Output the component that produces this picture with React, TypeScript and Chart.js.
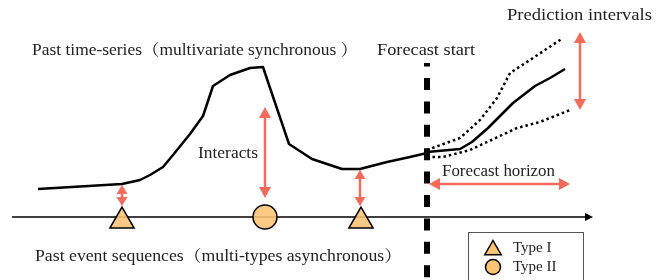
import React, { useEffect, useRef } from "react";
import { Chart, registerables } from "chart.js";
Chart.register(...registerables);

const W = 663;
const H = 280;

// Past time-series (diagram units = canvas pixels, y downward)
const pastX = [38, 122, 140, 150, 163, 173, 190, 203, 213, 230, 250, 263, 268, 289, 312, 342, 360, 387, 410, 427];
const pastY = [189, 184, 180, 175, 167, 155, 134, 116, 86, 75, 68, 67, 82, 144, 159, 169, 169, 162, 157, 153];

// Forecast mean and prediction intervals
const meanX = [427, 460, 472, 488, 513, 535, 550, 565];
const meanY = [152, 149, 142, 128, 103, 86, 78, 69];
const upperX = [427, 460, 480, 497, 510, 530, 563];
const upperY = [150, 138, 120, 98, 73, 60, 38];
const lowerX = [427, 443, 470, 517, 540, 570];
const lowerY = [157, 157, 150, 128, 122, 110];

// Event sequence
const axisX = [12, 586];
const axisLevel = 217;
const typeIX = [122, 361];
const typeIIX = [265];
const forecastStartX = 427;

// Interaction arrows: x, top, bottom
const interactX = [122, 265, 360];
const interactTop = [185, 107, 170];
const interactBottom = [206, 198, 206];

const RED = "#F36B5C";
const ORANGE = "#FCC373";
const ORANGE_FILL = "rgba(252,195,115,0.88)";
const TEXT = "#222";
const FONT = '"Liberation Serif", "Noto Serif CJK SC", "Noto Sans CJK SC", serif';

const labels = [
  { t: "Past time-series（multivariate synchronous ）", x: 32, y: 51, w: 326, s: 16 },
  { t: "Forecast start", x: 377, y: 51, w: 98, s: 16 },
  { t: "Prediction intervals", x: 507, y: 16, w: 145, s: 16 },
  { t: "Interacts", x: 198, y: 154, w: 60, s: 16 },
  { t: "Forecast horizon", x: 442, y: 172, w: 113, s: 16 },
  { t: "Past event sequences（multi-types asynchronous）", x: 35, y: 257, w: 367, s: 16 },
  { t: "Type I", x: 513, y: 248, w: 0, s: 15 },
  { t: "Type II", x: 513, y: 267, w: 0, s: 15 },
];

const pts = (xs: number[], ys: number[]) => xs.map((x, i) => ({ x, y: ys[i] }));

function head(ctx: CanvasRenderingContext2D, tx: number, ty: number, dx: number, dy: number, len: number, w: number) {
  const n = Math.hypot(dx, dy);
  const ux = dx / n, uy = dy / n;
  const bx = tx - ux * len, by = ty - uy * len;
  ctx.beginPath();
  ctx.moveTo(tx, ty);
  ctx.lineTo(bx - uy * w / 2, by + ux * w / 2);
  ctx.lineTo(bx + uy * w / 2, by - ux * w / 2);
  ctx.closePath();
  ctx.fill();
}

function dblArrow(ctx: CanvasRenderingContext2D, x1: number, y1: number, x2: number, y2: number, len: number, w: number) {
  const dx = x2 - x1, dy = y2 - y1;
  const n = Math.hypot(dx, dy);
  const ux = dx / n, uy = dy / n;
  ctx.beginPath();
  ctx.moveTo(x1 + ux * (len - 1), y1 + uy * (len - 1));
  ctx.lineTo(x2 - ux * (len - 1), y2 - uy * (len - 1));
  ctx.stroke();
  head(ctx, x2, y2, dx, dy, len, w);
  head(ctx, x1, y1, -dx, -dy, len, w);
}

const annot = {
  id: "annot",
  afterDatasetsDraw(chart: any) {
    const ctx: CanvasRenderingContext2D = chart.ctx;
    const xs = chart.scales.x, ys = chart.scales.y;
    const px = (v: number) => xs.getPixelForValue(v);
    const py = (v: number) => ys.getPixelForValue(v);
    ctx.save();
    // axis arrow head
    ctx.fillStyle = "#000";
    head(ctx, px(593), py(axisLevel), 1, 0, 8, 8);

    // red arrows
    ctx.strokeStyle = RED;
    ctx.fillStyle = RED;
    ctx.lineWidth = 2.5;
    interactX.forEach((x, i) => {
      const big = interactBottom[i] - interactTop[i] > 50;
      dblArrow(ctx, px(x), py(interactTop[i]), px(x), py(interactBottom[i]), big ? 11 : 9, big ? 12 : 11);
    });
    dblArrow(ctx, px(580), py(32), px(580), py(110), 11, 12);
    dblArrow(ctx, px(429), py(184), px(570), py(184), 11, 12);

    // legend box
    ctx.strokeStyle = "#555";
    ctx.lineWidth = 1;
    ctx.strokeRect(px(468) + 0.5, py(232) + 0.5, 115, 60);
    ctx.fillStyle = ORANGE;
    ctx.strokeStyle = "#000";
    ctx.lineWidth = 1.5;
    const tx = px(493), ty = py(250);
    const r = 9.5;
    ctx.beginPath();
    ctx.moveTo(tx, ty - r);
    ctx.lineTo(tx + r * 0.866, ty + r / 2);
    ctx.lineTo(tx - r * 0.866, ty + r / 2);
    ctx.closePath();
    ctx.fill();
    ctx.stroke();
    ctx.beginPath();
    ctx.arc(px(493), py(267), 7.5, 0, Math.PI * 2);
    ctx.fill();
    ctx.stroke();

    // texts
    ctx.fillStyle = TEXT;
    ctx.textBaseline = "middle";
    ctx.textAlign = "left";
    labels.forEach((l) => {
      ctx.font = `${l.s}px ${FONT}`;
      const m = ctx.measureText(l.t).width;
      ctx.save();
      ctx.translate(px(l.x), py(l.y));
      if (l.w) ctx.scale(l.w / m, 1);
      ctx.fillText(l.t, 0, 0);
      ctx.restore();
    });
    ctx.restore();
  },
};

export default function App() {
  const ref = useRef<HTMLCanvasElement>(null);
  useEffect(() => {
    const line = (data: any, extra: any = {}) => ({
      data,
      showLine: true,
      borderColor: "#000",
      borderWidth: 2.5,
      pointRadius: 0,
      fill: false,
      tension: 0,
      clip: false,
      borderJoinStyle: "round",
      order: 5,
      ...extra,
    });
    const chart = new Chart(ref.current as HTMLCanvasElement, {
      type: "scatter",
      data: {
        datasets: [
          line(pts(axisX, [axisLevel, axisLevel]), { borderWidth: 1.5, order: 10 }),
          line(pts(pastX, pastY)),
          line(pts(meanX, meanY)),
          line(pts(upperX, upperY), { borderDash: [2.5, 3], borderJoinStyle: "miter" }),
          line(pts(lowerX, lowerY), { borderDash: [2.5, 3], borderJoinStyle: "miter" }),
          line(pts([forecastStartX, forecastStartX], [63, 285]), {
            borderWidth: 6,
            borderDash: [12, 11.4],
            borderDashOffset: 8.4,
            order: 1,
          }),
          {
            data: pts(typeIX, typeIX.map(() => axisLevel + 4)),
            pointStyle: "triangle",
            pointRadius: 14,
            backgroundColor: ORANGE_FILL,
            borderColor: "#000",
            borderWidth: 1.5,
            clip: false,
            order: 0,
          },
          {
            data: pts(typeIIX, typeIIX.map(() => axisLevel)),
            pointStyle: "circle",
            pointRadius: 12,
            backgroundColor: ORANGE_FILL,
            borderColor: "#000",
            borderWidth: 1.5,
            clip: false,
            order: 0,
          },
        ],
      },
      options: {
        animation: false,
        responsive: false,
        maintainAspectRatio: false,
        events: [],
        layout: { padding: 0, autoPadding: false },
        plugins: { legend: { display: false }, tooltip: { enabled: false } },
        scales: {
          x: { type: "linear", min: 0, max: W, display: false },
          y: { type: "linear", min: 0, max: H, reverse: true, display: false },
        },
      },
      plugins: [annot],
    } as any);
    return () => chart.destroy();
  }, []);
  return (
    <div style={{ position: "fixed", left: 0, top: 0, width: W, height: H, background: "#fff" }}>
      <canvas ref={ref} width={W} height={H} style={{ display: "block" }} />
    </div>
  );
}
